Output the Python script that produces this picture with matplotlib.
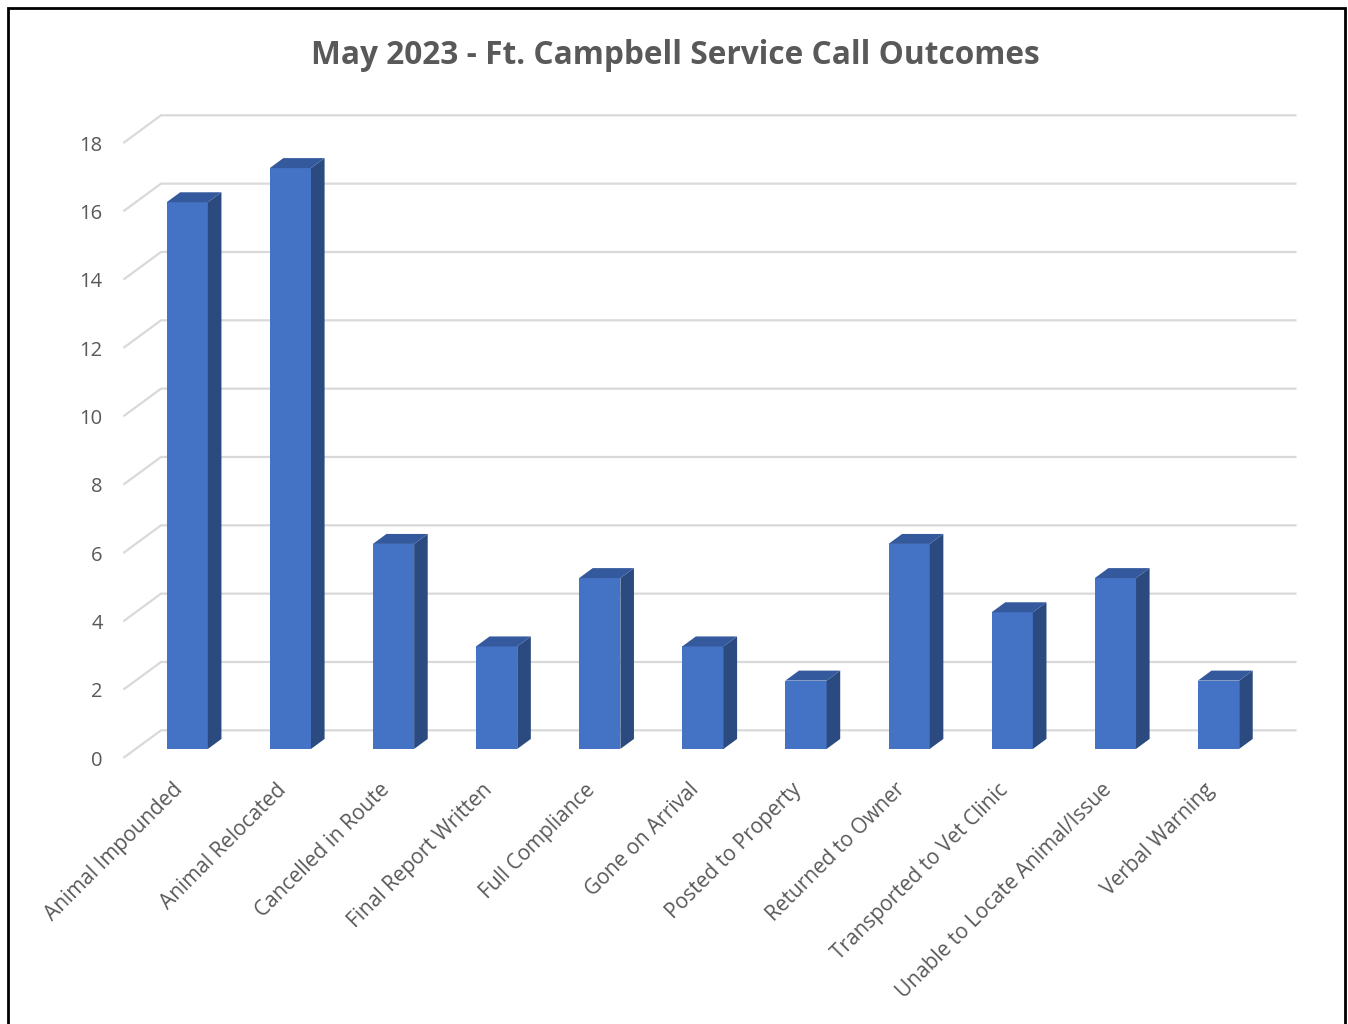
import matplotlib.pyplot as plt
from matplotlib.patches import Polygon, Rectangle

categories = ["Animal Impounded", "Animal Relocated", "Cancelled in Route",
              "Final Report Written", "Full Compliance", "Gone on Arrival",
              "Posted to Property", "Returned to Owner", "Transported to Vet Clinic",
              "Unable to Locate Animal/Issue", "Verbal Warning"]
values = [16, 17, 6, 3, 5, 3, 2, 6, 4, 5, 2]
yticks = [0, 2, 4, 6, 8, 10, 12, 14, 16, 18]
title = "May 2023 - Ft. Campbell Service Call Outcomes"

plt.rcParams['font.family'] = ['Open Sans', 'DejaVu Sans']
text_col = '#595959'
front_col = '#4472C4'
side_col = '#2B4A80'
top_col = '#34599C'
grid_col = '#D9D9D9'

# depth of the floor in data units (category slots, value units)
DX, DY = 0.356, 0.79
d0, d1 = 0.31, 0.68      # bars sit between these depth fractions
bw = 0.4                 # bar width as a share of a slot

W, H = 1348, 1024
fig = plt.figure(figsize=(W / 100, H / 100), dpi=100)
ax = fig.add_axes([124.3 / W, 1 - 757.3 / H, (1258.7 - 124.3) / W, 615 / H])
ax.set_xlim(0, len(categories))
ax.set_ylim(0, 18)
ax.axis('off')

# back wall gridlines with the diagonal floor edge
for v in yticks:
    ax.plot([0, DX, len(categories) + DX], [v, v + DY, v + DY],
            color=grid_col, lw=1.6, clip_on=False, zorder=1)
    ax.text(-0.21, v - 0.1, str(v), ha='right', va='center', fontsize=14.5,
            color=text_col, clip_on=False)

# 3d-looking columns
for i, v in enumerate(values):
    xl = i + (1 - bw) / 2 + d0 * DX
    xr = xl + bw
    yb = d0 * DY
    yt = yb + v
    ddx = (d1 - d0) * DX
    ddy = (d1 - d0) * DY
    ax.add_patch(Rectangle((xl, yb), bw, v, facecolor=front_col,
                           edgecolor='none', zorder=3, clip_on=False))
    ax.add_patch(Polygon([(xr, yb), (xr + ddx, yb + ddy), (xr + ddx, yt + ddy), (xr, yt)],
                         closed=True, facecolor=side_col, edgecolor='none',
                         zorder=3, clip_on=False))
    ax.add_patch(Polygon([(xl, yt), (xr, yt), (xr + ddx, yt + ddy), (xl + ddx, yt + ddy)],
                         closed=True, facecolor=top_col, edgecolor='none',
                         zorder=3, clip_on=False))

# rotated category labels
for i, c in enumerate(categories):
    ax.text(i + 0.54, -0.86, c, rotation=45, rotation_mode='anchor',
            ha='right', va='center', fontsize=15, color=text_col, clip_on=False)

fig.text(675 / W, 1 - 55 / H, title, ha='center', va='center',
         fontsize=22.8, fontweight='bold', color=text_col)

# chart frame
fig.patches.append(Rectangle((8 / W, -0.05), (1345 - 8) / W, 1.05 - 8 / H,
                             transform=fig.transFigure, fill=False,
                             edgecolor='black', lw=2))

fig.savefig('out.png', dpi=100, facecolor='white')
